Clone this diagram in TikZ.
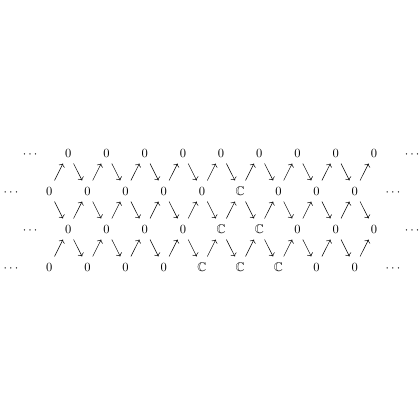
\documentclass[tikz,border=0pt]{standalone}
\usepackage{amssymb}
\usetikzlibrary{arrows.meta}
\begin{document}
\begin{tikzpicture}[x=0.8pt,y=-0.8pt,
  cell/.style={inner sep=0pt,minimum height=16.5pt,minimum width=12pt,text height=6.9pt,text depth=0pt},
  ar/.style={-{Computer Modern Rightarrow},line width=0.4pt}]
\useasboundingbox (0,0) rectangle (420,420);
% row 1
\foreach \k/\t in {1/\cdots,3/0,5/0,7/0,9/0,11/0,13/0,15/0,17/0,19/0,21/\cdots}
  \node[cell] (r1c\k) at ({11+19.1*\k},153) {$\t$};
% row 2
\foreach \k/\t in {0/\cdots,2/0,4/0,6/0,8/0,10/0,12/{\mathbb{C}},14/0,16/0,18/0,20/\cdots}
  \node[cell] (r2c\k) at ({11+19.1*\k},191) {$\t$};
% row 3
\foreach \k/\t in {1/\cdots,3/0,5/0,7/0,9/0,11/{\mathbb{C}},13/{\mathbb{C}},15/0,17/0,19/0,21/\cdots}
  \node[cell] (r3c\k) at ({11+19.1*\k},229) {$\t$};
% row 4
\foreach \k/\t in {0/\cdots,2/0,4/0,6/0,8/0,10/{\mathbb{C}},12/{\mathbb{C}},14/{\mathbb{C}},16/0,18/0,20/\cdots}
  \node[cell] (r4c\k) at ({11+19.1*\k},267) {$\t$};
% arrows rows 1-2
\foreach \k in {2,4,...,18}{\pgfmathtruncatemacro\kk{\k+1}\draw[ar] (r2c\k) -- (r1c\kk);}
\foreach \k in {3,5,...,17}{\pgfmathtruncatemacro\kk{\k+1}\draw[ar] (r1c\k) -- (r2c\kk);}
% arrows rows 2-3
\foreach \k in {2,4,...,18}{\pgfmathtruncatemacro\kk{\k+1}\draw[ar] (r2c\k) -- (r3c\kk);}
\foreach \k in {3,5,...,17}{\pgfmathtruncatemacro\kk{\k+1}\draw[ar] (r3c\k) -- (r2c\kk);}
% arrows rows 3-4
\foreach \k in {2,4,...,18}{\pgfmathtruncatemacro\kk{\k+1}\draw[ar] (r4c\k) -- (r3c\kk);}
\foreach \k in {3,5,...,17}{\pgfmathtruncatemacro\kk{\k+1}\draw[ar] (r3c\k) -- (r4c\kk);}
\end{tikzpicture}
\end{document}
